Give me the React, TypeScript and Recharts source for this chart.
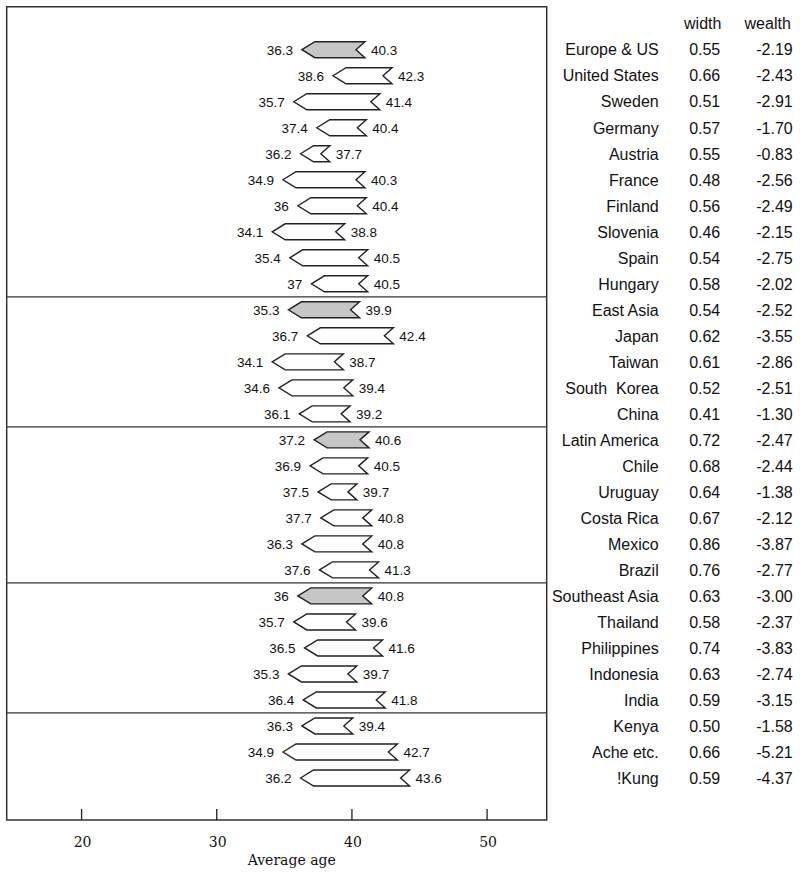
import React from "react";
import {
  ComposedChart,
  Bar,
  XAxis,
  YAxis,
  ReferenceLine,
  ReferenceArea,
} from "recharts";

const countries = [
  "Europe & US", "United States", "Sweden", "Germany", "Austria", "France",
  "Finland", "Slovenia", "Spain", "Hungary",
  "East Asia", "Japan", "Taiwan", "South  Korea", "China",
  "Latin America", "Chile", "Uruguay", "Costa Rica", "Mexico", "Brazil",
  "Southeast Asia", "Thailand", "Philippines", "Indonesia", "India",
  "Kenya", "Ache etc.", "!Kung",
];
const startAge = [
  36.3, 38.6, 35.7, 37.4, 36.2, 34.9, 36, 34.1, 35.4, 37,
  35.3, 36.7, 34.1, 34.6, 36.1,
  37.2, 36.9, 37.5, 37.7, 36.3, 37.6,
  36, 35.7, 36.5, 35.3, 36.4,
  36.3, 34.9, 36.2,
];
const endAge = [
  40.3, 42.3, 41.4, 40.4, 37.7, 40.3, 40.4, 38.8, 40.5, 40.5,
  39.9, 42.4, 38.7, 39.4, 39.2,
  40.6, 40.5, 39.7, 40.8, 40.8, 41.3,
  40.8, 39.6, 41.6, 39.7, 41.8,
  39.4, 42.7, 43.6,
];
const widths = [
  "0.55", "0.66", "0.51", "0.57", "0.55", "0.48", "0.56", "0.46", "0.54", "0.58",
  "0.54", "0.62", "0.61", "0.52", "0.41",
  "0.72", "0.68", "0.64", "0.67", "0.86", "0.76",
  "0.63", "0.58", "0.74", "0.63", "0.59",
  "0.50", "0.66", "0.59",
];
const wealth = [
  "-2.19", "-2.43", "-2.91", "-1.70", "-0.83", "-2.56", "-2.49", "-2.15", "-2.75", "-2.02",
  "-2.52", "-3.55", "-2.86", "-2.51", "-1.30",
  "-2.47", "-2.44", "-1.38", "-2.12", "-3.87", "-2.77",
  "-3.00", "-2.37", "-3.83", "-2.74", "-3.15",
  "-1.58", "-5.21", "-4.37",
];
const groupRows = ["Europe & US", "East Asia", "Latin America", "Southeast Asia"];
const dividers = [9.5, 14.5, 20.5, 25.5];
const xTicks = [20, 30, 40, 50];

const X_DOMAIN: [number, number] = [14.46, 54.41];
const Y_DOMAIN: [number, number] = [-1.654, 29.615];

const data = countries.map((name, i) => ({
  idx: i,
  name,
  start: startAge[i],
  end: endAge[i],
  range: [startAge[i], endAge[i]],
  group: groupRows.includes(name),
}));

const sansFont = "'Liberation Sans', Arial, sans-serif";
const serifFont = "'DejaVu Serif', serif";

// arrow: pointed head at the start age, notched tail at the end age
const ArrowShape = (props: any) => {
  const { x, y, width, height, payload } = props;
  const head = 13;
  const tail = 9;
  const top = y;
  const bot = y + height;
  const yc = y + height / 2;
  const x0 = x;
  const x1 = x + width;
  const pts = `${x0},${yc} ${x0 + head},${top} ${x1 + tail},${top} ${x1},${yc} ${x1 + tail},${bot} ${x0 + head},${bot}`;
  return (
    <g>
      <polygon
        points={pts}
        fill={payload.group ? "#c6c6c6" : "#fff"}
        stroke="#222"
        strokeWidth={1.4}
        strokeLinejoin="miter"
      />
      <text x={x0 - 9} y={yc} dy="0.36em" textAnchor="end" fontSize={13.5} fontFamily={sansFont} fill="#111">
        {String(payload.start)}
      </text>
      <text x={x1 + tail + 6} y={yc} dy="0.36em" textAnchor="start" fontSize={13.5} fontFamily={sansFont} fill="#111">
        {String(payload.end)}
      </text>
    </g>
  );
};

const RowTick = ({ x, y, payload }: any) => {
  const i = payload.value;
  const common = { fontSize: 16, fontFamily: sansFont, fill: "#111", dy: "0.36em" };
  if (i < 0) {
    return (
      <g>
        <text x={x + 156} y={y} textAnchor="middle" {...common}>width</text>
        <text x={x + 221} y={y} textAnchor="middle" {...common}>wealth</text>
      </g>
    );
  }
  return (
    <g>
      <text x={x + 112} y={y} textAnchor="end" {...common} style={{ whiteSpace: "pre" }}>
        {countries[i]}
      </text>
      <text x={x + 158} y={y} textAnchor="middle" {...common}>{widths[i]}</text>
      <text x={x + 246} y={y} textAnchor="end" {...common}>{wealth[i]}</text>
    </g>
  );
};

const AgeTick = ({ x, y, payload }: any) => (
  <g>
    <line x1={x} x2={x} y1={y - 11} y2={y} stroke="#222" strokeWidth={1.3} />
    <text x={x + 1} y={y + 27} textAnchor="middle" fontSize={14} fontFamily={serifFont} fill="#111">
      {payload.value}
    </text>
  </g>
);

const AxisTitle = ({ viewBox }: any) => (
  <text
    x={viewBox.x + viewBox.width / 2 + 15}
    y={viewBox.y + 45}
    textAnchor="middle"
    fontSize={14}
    fontFamily={serifFont}
    fill="#111"
  >
    Average age
  </text>
);

const rowTicks = [-1, ...countries.map((_, i) => i)];

export default function App() {
  return (
    <div style={{ position: "absolute", left: 0, top: 0, background: "#fff" }}>
      <ComposedChart
        width={800}
        height={877}
        data={data}
        layout="vertical"
        margin={{ top: 6.7, right: 0, bottom: 0, left: 6.7 }}
      >
        <XAxis
          type="number"
          dataKey="start"
          domain={X_DOMAIN}
          allowDataOverflow
          ticks={xTicks}
          interval={0}
          axisLine={false}
          tickLine={false}
          tickSize={0}
          tickMargin={0}
          height={57}
          tick={<AgeTick />}
          label={<AxisTitle />}
        />
        <YAxis
          type="number"
          dataKey="idx"
          orientation="right"
          domain={Y_DOMAIN}
          allowDataOverflow
          ticks={rowTicks}
          interval={0}
          width={253.3}
          axisLine={false}
          tickLine={false}
          tickSize={0}
          tickMargin={0}
          tick={<RowTick />}
        />
        <ReferenceArea
          x1={X_DOMAIN[0]}
          x2={X_DOMAIN[1]}
          y1={Y_DOMAIN[0]}
          y2={Y_DOMAIN[1]}
          fill="none"
          stroke="#333"
          strokeWidth={1.5}
          ifOverflow="visible"
        />
        {dividers.map((v) => (
          <ReferenceLine key={v} y={v} stroke="#333" strokeWidth={1.3} />
        ))}
        <Bar
          dataKey="range"
          barSize={16}
          shape={<ArrowShape />}
          isAnimationActive={false}
        />
      </ComposedChart>
    </div>
  );
}
